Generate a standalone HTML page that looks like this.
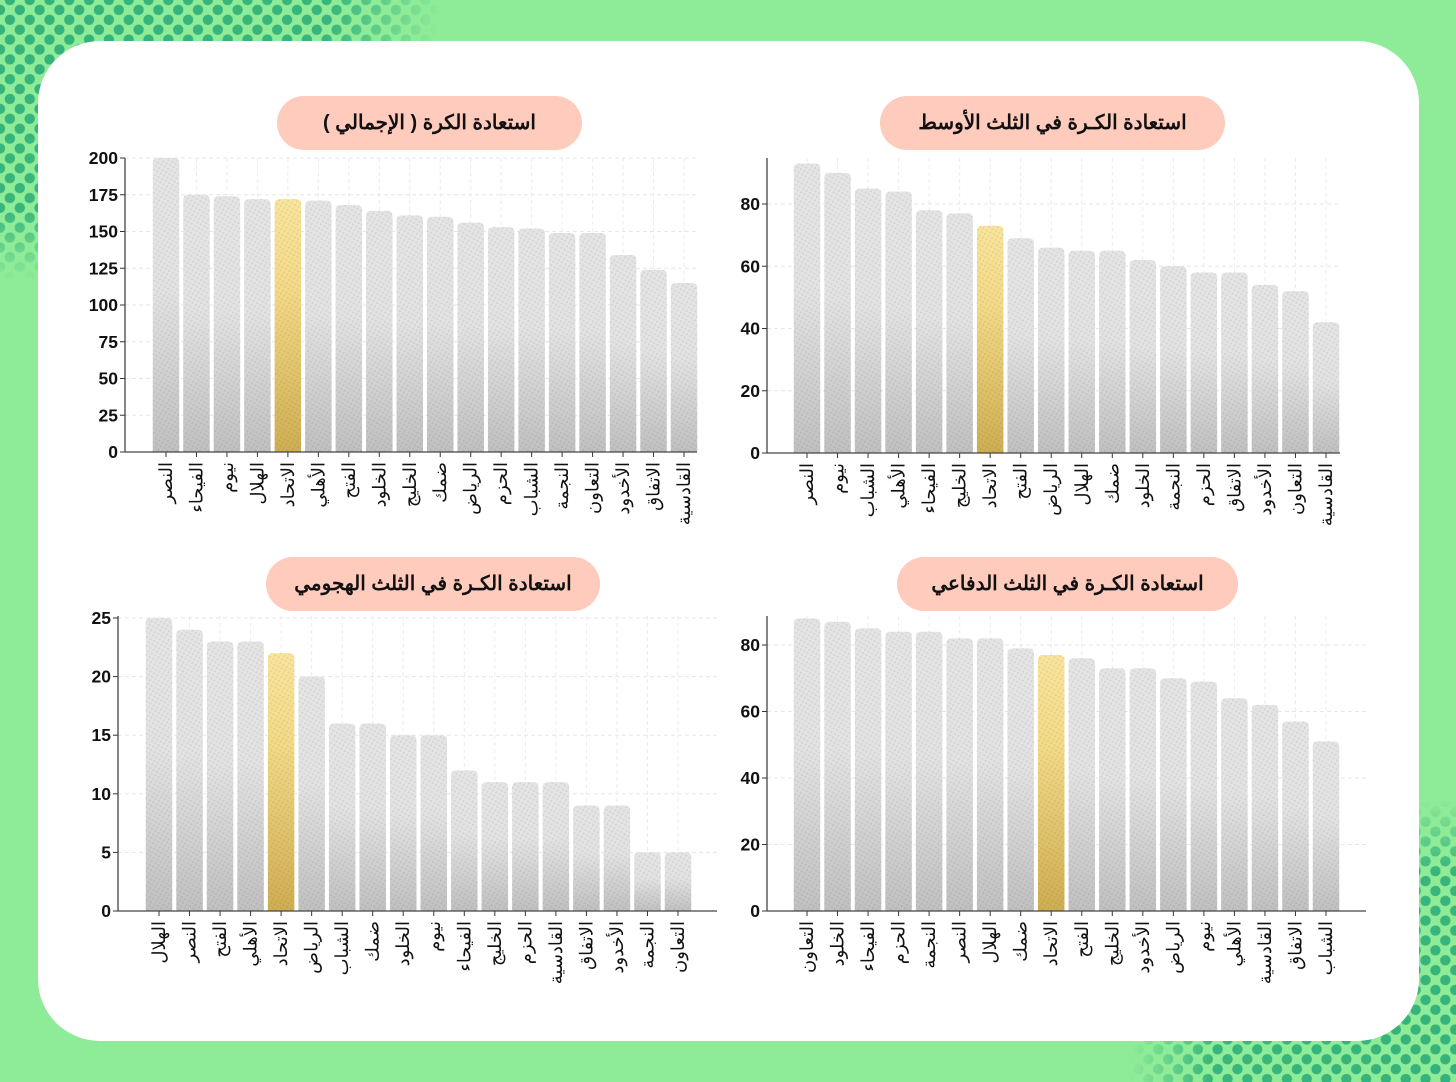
<!DOCTYPE html>
<html><head><meta charset="utf-8">
<style>
html,body{margin:0;padding:0;width:1456px;height:1082px;overflow:hidden;background:#8eeb98;}
svg{display:block}
text{font-family:"Liberation Sans","Noto Sans CJK SC",sans-serif;}
</style></head>
<body>
<svg id="s" width="1456" height="1082" xmlns="http://www.w3.org/2000/svg">
<defs>
<pattern id="dots" width="14" height="14" patternUnits="userSpaceOnUse" patternTransform="rotate(45)">
<circle cx="7" cy="7" r="5.2" fill="#34b27a"/>
</pattern>
<radialGradient id="tlm" cx="0" cy="0" r="1" gradientUnits="objectBoundingBox">
<stop offset="0" stop-color="#fff"/><stop offset="0.75" stop-color="#fff" stop-opacity="0.95"/><stop offset="1" stop-color="#fff" stop-opacity="0"/>
</radialGradient>
<radialGradient id="brm" cx="1" cy="1" r="1" gradientUnits="objectBoundingBox">
<stop offset="0" stop-color="#fff"/><stop offset="0.75" stop-color="#fff" stop-opacity="0.95"/><stop offset="1" stop-color="#fff" stop-opacity="0"/>
</radialGradient>
<mask id="m1"><rect x="0" y="0" width="440" height="280" fill="url(#tlm)"/></mask>
<mask id="m2"><rect x="1130" y="800" width="326" height="282" fill="url(#brm)"/></mask>
<pattern id="fine" width="4" height="4" patternUnits="userSpaceOnUse" patternTransform="rotate(30)">
<circle cx="2" cy="2" r="1" fill="#000" fill-opacity="0.07"/>
</pattern>
<linearGradient id="gg" x1="0" y1="0" x2="0" y2="1">
<stop offset="0" stop-color="#e4e4e4"/><stop offset="0.45" stop-color="#e2e2e2"/><stop offset="1" stop-color="#c0c0c0"/>
</linearGradient>
<linearGradient id="yg" x1="0" y1="0" x2="0" y2="1">
<stop offset="0" stop-color="#f8e49c"/><stop offset="0.35" stop-color="#f3da88"/><stop offset="1" stop-color="#cfae52"/>
</linearGradient>
</defs>
<rect x="0" y="0" width="440" height="280" fill="url(#dots)" mask="url(#m1)"/>
<rect x="1130" y="800" width="326" height="282" fill="url(#dots)" mask="url(#m2)"/>
<rect x="38" y="41" width="1381" height="1000" rx="62" fill="#fff"/>
<g id="g"></g>
</svg>
<script>
const NS="http://www.w3.org/2000/svg";
const G=document.getElementById('g');
function el(t,a,txt){const e=document.createElementNS(NS,t);for(const k in a)e.setAttribute(k,a[k]);if(txt!==undefined)e.textContent=txt;G.appendChild(e);return e;}
const charts=[
{title:"استعادة الكرة ( الإجمالي )",px:277,pw:305,py:96,ax:125,y0:452,yTop:158,max:200,ticks:[0,25,50,75,100,125,150,175,200],x1:166,xN:684,xEnd:697,
 vals:[200,175,174,172,172,171,168,164,161,160,156,153,152,149,149,134,124,115],
 labs:["النصر","الفيحاء","نيوم","الهلال","الاتحاد","الأهلي","الفتح","الخلود","الخليج","ضمك","الرياض","الحزم","الشباب","النجمة","التعاون","الأخدود","الاتفاق","القادسية"],hi:4},
{title:"استعادة الكـرة في الثلث الأوسط",px:880,pw:345,py:96,ax:767,y0:453,yTop:158,scale:(453-204)/80,ticks:[0,20,40,60,80],x1:807,xN:1326,xEnd:1340,
 vals:[93,90,85,84,78,77,73,69,66,65,65,62,60,58,58,54,52,42],
 labs:["النصر","نيوم","الشباب","الأهلي","الفيحاء","الخليج","الاتحاد","الفتح","الرياض","الهلال","ضمك","الخلود","النجمة","الحزم","الاتفاق","الأخدود","التعاون","القادسية"],hi:6},
{title:"استعادة الكـرة في الثلث الهجومي",px:266,pw:334,py:557,ax:118,y0:911,yTop:616,scale:(911-618)/25,ticks:[0,5,10,15,20,25],x1:159,xN:678,xEnd:717,
 vals:[25,24,23,23,22,20,16,16,15,15,12,11,11,11,9,9,5,5],
 labs:["الهلال","النصر","الفتح","الأهلي","الاتحاد","الرياض","الشباب","ضمك","الخلود","نيوم","الفيحاء","الخليج","الحزم","القادسية","الاتفاق","الأخدود","النجمة","التعاون"],hi:4},
{title:"استعادة الكـرة في الثلث الدفاعي",px:897,pw:341,py:557,ax:767,y0:911,yTop:616,scale:(911-645)/80,ticks:[0,20,40,60,80],x1:807,xN:1326,xEnd:1366,
 vals:[88,87,85,84,84,82,82,79,77,76,73,73,70,69,64,62,57,51],
 labs:["التعاون","الخلود","الفيحاء","الحزم","النجمة","النصر","الهلال","ضمك","الاتحاد","الفتح","الخليج","الأخدود","الرياض","نيوم","الأهلي","القادسية","الاتفاق","الشباب"],hi:8}
];
for(const c of charts){
 const sc=c.scale||(c.y0-c.yTop)/c.max;
 el('rect',{x:c.px,y:c.py,width:c.pw,height:54,rx:27,fill:"#ffcbbd"});
 el('text',{x:c.px+c.pw/2,y:c.py+27,'text-anchor':'middle','dominant-baseline':'central','font-size':20,'font-weight':'bold',fill:'#111',direction:'rtl'},c.title);
 const step=(c.xN-c.x1)/17;
 for(const t of c.ticks){const y=c.y0-t*sc;if(t>0)el('line',{x1:c.ax,x2:c.xEnd,y1:y,y2:y,stroke:'#e6e6e6','stroke-dasharray':'4 3'});
  el('line',{x1:c.ax-5,x2:c.ax,y1:y,y2:y,stroke:'#333'});
  el('text',{x:c.ax-7,y:y,'text-anchor':'end','dominant-baseline':'central','font-size':17.5,'font-weight':'bold',fill:'#111'},t);}
 for(let i=0;i<18;i++){const x=c.x1+i*step;el('line',{x1:x,x2:x,y1:c.yTop,y2:c.y0,stroke:'#ececec','stroke-dasharray':'4 3'});}
 for(let i=0;i<18;i++){
  const x=c.x1+i*step,h=c.vals[i]*sc,w=26.5;
  const y=c.y0-h;
  const d=`M${x-w/2},${c.y0} L${x-w/2},${y+5} Q${x-w/2},${y} ${x-w/2+5},${y} L${x+w/2-5},${y} Q${x+w/2},${y} ${x+w/2},${y+5} L${x+w/2},${c.y0} Z`;
  el('path',{d:d,fill:i==c.hi?'url(#yg)':'url(#gg)'});
  el('path',{d:d,fill:'url(#fine)'});
  el('line',{x1:x,x2:x,y1:c.y0,y2:c.y0+5,stroke:'#333'});
  el('text',{x:0,y:0,transform:`translate(${x},${c.y0+10}) rotate(-90)`,'text-anchor':'end','dominant-baseline':'central','font-size':18,fill:'#111'},c.labs[i]);
 }
 el('line',{x1:c.ax,x2:c.ax,y1:c.yTop,y2:c.y0,stroke:'#444','stroke-width':1.3});
 el('line',{x1:c.ax,x2:c.xEnd,y1:c.y0,y2:c.y0,stroke:'#444','stroke-width':1.3});
}
</script>
</body></html>
